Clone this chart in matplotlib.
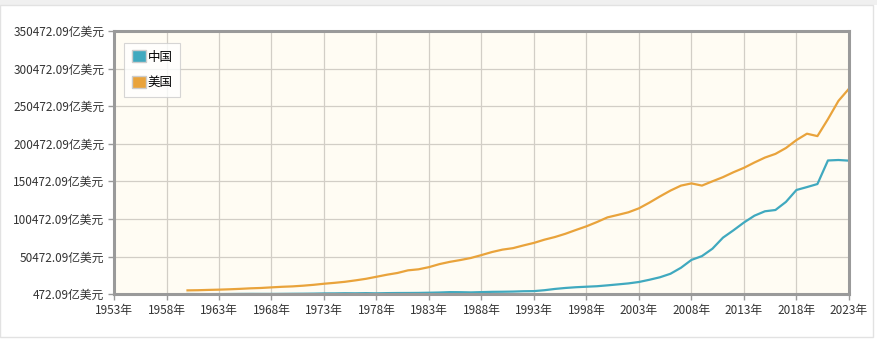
import matplotlib
matplotlib.use("Agg")
import matplotlib.pyplot as plt
from matplotlib.patches import Rectangle, Patch

plt.rcParams['font.family'] = ['Noto Sans CJK SC', 'DejaVu Sans']

years = list(range(1960, 2024))

# GDP, 亿美元
china_gdp = [
    597, 501, 472, 507, 597, 704, 767, 729, 708, 797,
    926, 998, 1137, 1385, 1442, 1634, 1539, 1749, 1495, 1783,
    1911, 1959, 2051, 2307, 2599, 3095, 3008, 2729, 3124, 3478,
    3609, 3834, 4269, 4447, 5643, 7345, 8637, 9616, 10290, 10940,
    12110, 13390, 14710, 16600, 19550, 22860, 27520, 35500, 45940, 51020,
    60870, 75520, 85320, 95700, 104760, 110620, 112330, 123100, 138950, 142800,
    146880, 178200, 178820, 177950,
]
usa_gdp = [
    5430, 5630, 6050, 6380, 6860, 7440, 8150, 8620, 9430, 10190,
    10730, 11650, 12800, 14250, 15450, 16840, 18730, 20820, 23520, 26270,
    28570, 32070, 33430, 36340, 40370, 43390, 45800, 48550, 52360, 56420,
    59630, 61580, 65200, 68590, 72870, 76400, 80730, 85780, 90630, 96310,
    102510, 105820, 109290, 114570, 122170, 130390, 138150, 144750, 147700, 144780,
    150490, 156000, 162540, 168430, 175510, 182060, 186950, 194770, 205330, 213810,
    210600, 233150, 257440, 273610,
]

x_ticks = list(range(1953, 2024, 5))
y_ticks = [472.09 + 50000 * i for i in range(8)]

china_color = '#40a9bf'
usa_color = '#e9a33b'

fig = plt.figure(figsize=(8.77, 3.4), dpi=100)
fig.patches.append(Rectangle((0, 0.985), 1, 0.015, transform=fig.transFigure,
                             facecolor='#f0f0f0', edgecolor='none'))
fig.patches.append(Rectangle((0.0, 0.01), 0.996, 0.975, transform=fig.transFigure,
                             facecolor='none', edgecolor='#e2e2e2', lw=1))

ax = fig.add_axes([0.130, 0.135, 0.838, 0.774])
ax.set_facecolor('#fffcf3')

ax.plot(years, china_gdp, color=china_color, lw=1.6, solid_joinstyle='round')
ax.plot(years, usa_gdp, color=usa_color, lw=1.6, solid_joinstyle='round')

ax.set_xlim(1953, 2023)
ax.set_ylim(y_ticks[0], y_ticks[-1])
ax.set_xticks(x_ticks)
ax.set_xticklabels([f'{y}年' for y in x_ticks])
ax.set_yticks(y_ticks)
ax.set_yticklabels([f'{v:.2f}亿美元' for v in y_ticks])

ax.grid(True, color='#d2cec6', lw=0.9)
ax.set_axisbelow(True)
for side in ['top', 'right', 'left', 'bottom']:
    ax.spines[side].set_color('#9a9a9a')
    ax.spines[side].set_linewidth(2.2)
ax.tick_params(axis='both', colors='#9a9a9a', length=4, width=1,
               labelcolor='#333333', labelsize=8.5, pad=3)

handles = [Patch(facecolor=china_color, edgecolor='#cccccc', label='中国'),
           Patch(facecolor=usa_color, edgecolor='#cccccc', label='美国')]
leg = ax.legend(handles=handles, loc='upper left', bbox_to_anchor=(0.014, 0.955),
                fontsize=9, frameon=True, fancybox=False, handlelength=1.1,
                handleheight=1.1, handletextpad=0.15, labelspacing=1.0,
                borderpad=0.6, borderaxespad=0)
leg.get_frame().set_edgecolor('#cccccc')
leg.get_frame().set_facecolor('#ffffff')
leg.get_frame().set_linewidth(0.8)

fig.savefig('out.png', dpi=100)
